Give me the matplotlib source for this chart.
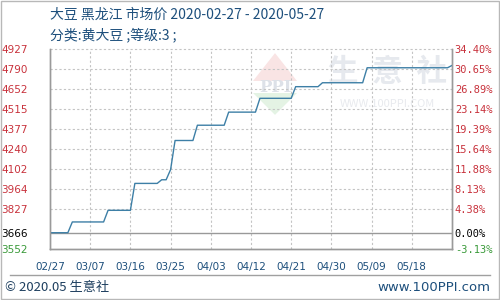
import datetime as dt
import matplotlib
matplotlib.use("Agg")
import matplotlib.pyplot as plt
import matplotlib.dates as mdates
from matplotlib.patches import Polygon, Rectangle

plt.rcParams['font.family'] = ['Noto Sans CJK SC', 'DejaVu Sans']

# price breakpoints (yuan/ton)
dates = ["2020-02-27", "2020-03-02", "2020-03-03", "2020-03-10", "2020-03-11",
         "2020-03-16", "2020-03-17", "2020-03-22", "2020-03-23", "2020-03-24",
         "2020-03-25", "2020-03-26", "2020-03-30", "2020-03-31", "2020-04-06",
         "2020-04-07", "2020-04-13", "2020-04-14", "2020-04-21", "2020-04-22",
         "2020-04-27", "2020-04-28", "2020-05-07", "2020-05-08", "2020-05-26",
         "2020-05-27"]
prices = [3666, 3666, 3740, 3740, 3820,
          3820, 4005, 4005, 4030, 4030,
          4100, 4300, 4300, 4405, 4405,
          4495, 4495, 4590, 4590, 4670,
          4670, 4697, 4697, 4800, 4800,
          4816]

base_price = 3666
y_min, y_max = 3552, 4927
grid_ticks = [4927, 4790, 4652, 4515, 4377, 4240, 4102, 3964, 3827]
pct_labels = ["34.40%", "30.65%", "26.89%", "23.14%", "19.39%",
              "15.64%", "11.88%", "8.13%", "4.38%"]
x_ticks = ["2020-02-27", "2020-03-07", "2020-03-16", "2020-03-25", "2020-04-03",
           "2020-04-12", "2020-04-21", "2020-04-30", "2020-05-09", "2020-05-18"]

red = '#c8323c'
green = '#3a9a3a'
navy = '#1d4f7c'

to_dt = lambda s: dt.datetime.strptime(s, "%Y-%m-%d")
x = [to_dt(d) for d in dates]

fig = plt.figure(figsize=(5, 3), dpi=100)
fig.patches.append(Rectangle((0.001, 0.002), 0.997, 0.995, transform=fig.transFigure,
                             fill=False, edgecolor='#b8b8b8', lw=1, zorder=-5))

# watermark (drawn under the axes)
fig.text(0.775, 0.76, "生  意  社", fontsize=22, color='#e6e9ee', ha='center', va='center',
         fontweight='bold', zorder=-5)
fig.text(0.775, 0.653, "WWW.100PPI.COM", fontsize=8, color='#e8eaee', ha='center',
         va='center', zorder=-5)
fig.patches.append(Polygon([(0.506, 0.73), (0.55, 0.823), (0.594, 0.73)],
                           transform=fig.transFigure, closed=True, fc='#f9e4e4', ec='none', zorder=-5))
fig.patches.append(Polygon([(0.506, 0.69), (0.55, 0.617), (0.594, 0.69)],
                           transform=fig.transFigure, closed=True, fc='#e4f3e4', ec='none', zorder=-5))
fig.text(0.55, 0.71, "PPI", fontsize=12, color='#dde1e8', ha='center', va='center',
         fontweight='bold', fontfamily='DejaVu Serif', zorder=-5)

ax = fig.add_axes([0.1, 0.169, 0.804, 0.6667])
ax.set_zorder(2)
ax.patch.set_alpha(0)

ax.plot(x, prices, color='#3d7fa6', lw=1.0, zorder=3)

ax.set_xlim(to_dt("2020-02-27"), to_dt("2020-05-27"))
ax.set_ylim(y_min, y_max)

for v in grid_ticks:
    ax.axhline(v, color='#c4c4c4', lw=0.8, ls=(0, (2, 2)), zorder=1, clip_on=False)
for d in x_ticks[1:]:
    ax.axvline(to_dt(d), color='#c4c4c4', lw=0.8, ls=(0, (2, 2)), zorder=1)
ax.axhline(base_price, color='#999999', lw=1.0, zorder=2)

ax.set_yticks(grid_ticks + [base_price, y_min])
ax.set_yticklabels([str(v) for v in grid_ticks] + [str(base_price), str(y_min)],
                   fontfamily='DejaVu Sans', fontsize=7.5)
for lab in ax.get_yticklabels():
    lab.set_color(red)
ax.get_yticklabels()[-2].set_color('black')
ax.get_yticklabels()[-1].set_color(green)
ax.tick_params(axis='y', length=0, pad=16)

ax.set_xticks([to_dt(d) for d in x_ticks])
ax.xaxis.set_major_formatter(mdates.DateFormatter("%m/%d"))
ax.tick_params(axis='x', length=0, pad=9, labelsize=7.5, labelcolor=navy)
for lab in ax.get_xticklabels():
    lab.set_fontfamily('DejaVu Sans')

ax2 = ax.twinx()
ax2.set_zorder(3)
ax2.set_ylim(y_min, y_max)
ax2.set_yticks(grid_ticks + [base_price, y_min])
ax2.set_yticklabels(pct_labels + ["0.00%", "-3.13%"], fontfamily='DejaVu Sans Mono', fontsize=7.5)
for lab in ax2.get_yticklabels():
    lab.set_color(red)
ax2.get_yticklabels()[-2].set_color('black')
ax2.get_yticklabels()[-1].set_color(green)
ax2.tick_params(axis='y', length=0, pad=2)

for a in (ax, ax2):
    a.spines['top'].set_visible(False)
    for s in ('left', 'right', 'bottom'):
        a.spines[s].set_color('#9a9a9a')
        a.spines[s].set_linewidth(1)

fig.text(0.1, 0.95, "大豆 黑龙江 市场价 2020-02-27 - 2020-05-27", fontsize=10, color=navy,
         ha='left', va='center')
fig.text(0.1, 0.883, "分类:黄大豆 ;等级:3 ;", fontsize=10, color=navy, ha='left', va='center')

fig.lines.append(plt.Line2D([0.02, 0.98], [0.083, 0.083], transform=fig.transFigure,
                            color='#a0a0a0', lw=1))
fig.text(0.01, 0.042, "© 2020.05 生意社", fontsize=9.5, color='#1e3f5f', ha='left', va='center')
fig.text(0.98, 0.042, "www.100PPI.com", fontsize=9.5, color=navy, ha='right', va='center',
         fontfamily='DejaVu Sans')

fig.savefig("out.png", dpi=100)
